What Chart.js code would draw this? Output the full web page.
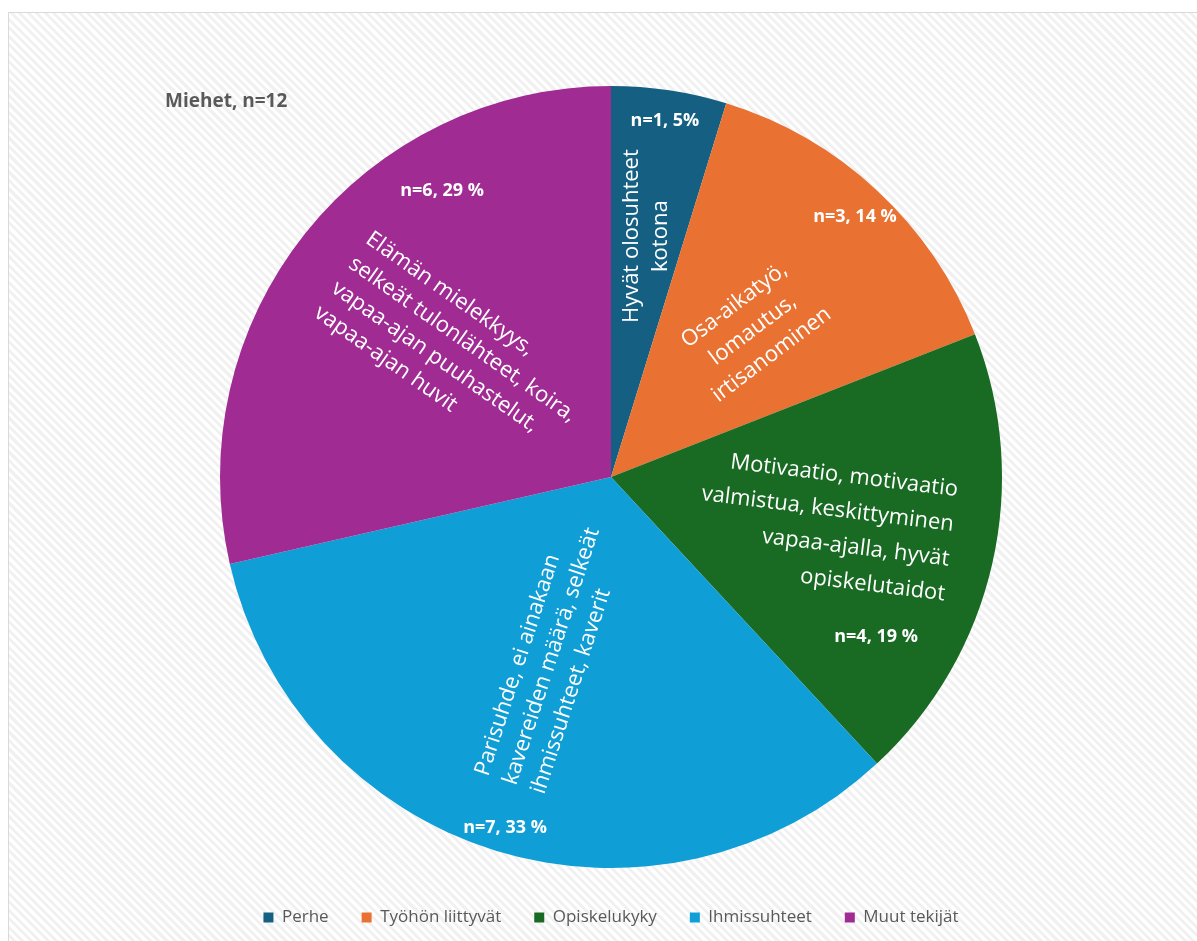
<!DOCTYPE html>
<html>
<head>
<meta charset="utf-8">
<script src="https://cdn.jsdelivr.net/npm/chart.js@4.4.1/dist/chart.umd.min.js"></script>
<style>
  html, body { margin: 0; padding: 0; background: #ffffff; }
  body { width: 1197px; height: 941px; position: relative; overflow: hidden; }
  #frame {
    position: absolute; left: 8px; top: 12px; right: -2px; bottom: -2px;
    border: 1px solid #d9d9d9;
    background: repeating-linear-gradient(45deg, #ffffff 0px, #ffffff 3px, #f1f1f1 3px, #f1f1f1 6px);
  }
  #wrap { position: absolute; left: 0; top: 0; width: 1197px; height: 941px; }
</style>
</head>
<body>
<div id="frame"></div>
<div id="wrap"><canvas id="c" width="1197" height="941"></canvas></div>
<script>
// ---- data ----
const categories = ['Perhe', 'Työhön liittyvät', 'Opiskelukyky', 'Ihmissuhteet', 'Muut tekijät'];
const counts = [1, 3, 4, 7, 6];
const countLabels = ['n=1, 5%', 'n=3, 14 %', 'n=4, 19 %', 'n=7, 33 %', 'n=6, 29 %'];
const descriptions = [
  ['Hyvät olosuhteet', 'kotona'],
  ['Osa-aikatyö,', 'lomautus,', 'irtisanominen'],
  ['Motivaatio, motivaatio', 'valmistua, keskittyminen', 'vapaa-ajalla, hyvät', 'opiskelutaidot'],
  ['Parisuhde, ei ainakaan', 'kavereiden määrä, selkeät', 'ihmissuhteet, kaverit'],
  ['Elämän mielekkyys,', 'selkeät tulonlähteet, koira,', 'vapaa-ajan puuhastelut,', 'vapaa-ajan huvit']
];
const chartTitle = 'Miehet, n=12';

// ---- styles / placement ----
const colors = ['#156082', '#E97132', '#196B24', '#0F9ED5', '#A02B93'];
// positions relative to pie centre, in units of outer radius
const countPos = [[0.138, -0.910], [0.624, -0.665], [0.678, 0.409], [-0.271, 0.898], [-0.432, -0.731]];
const descPlace = [
  { pos: [0.090, -0.616], rot: -90, align: 'center', anchor: 'middle', lh: 29 },
  { pos: [0.363, -0.376], rot: -37, align: 'center', anchor: 'middle', lh: 31 },
  { pos: [0.887, 0.033], rot: 7, align: 'right', anchor: 'first', lh: 35 },
  { pos: [-0.330, 0.762], rot: -72, align: 'left', anchor: 'first', lh: 29.5 },
  { pos: [-0.621, -0.614], rot: 35, align: 'left', anchor: 'first', lh: 30 }
];

const labelPlugin = {
  id: 'sliceLabels',
  afterDatasetsDraw(chart) {
    const ctx = chart.ctx;
    const meta = chart.getDatasetMeta(0);
    ctx.save();
    meta.data.forEach((arc, i) => {
      const cx = arc.x, cy = arc.y, R = arc.outerRadius;
      // count label
      ctx.save();
      ctx.fillStyle = '#ffffff';
      ctx.font = 'bold 18px "Open Sans", sans-serif';
      ctx.textAlign = 'center';
      ctx.textBaseline = 'middle';
      ctx.fillText(countLabels[i], cx + countPos[i][0] * R, cy + countPos[i][1] * R);
      ctx.restore();
      // description
      const p = descPlace[i];
      const lines = descriptions[i];
      ctx.save();
      ctx.translate(cx + p.pos[0] * R, cy + p.pos[1] * R);
      ctx.rotate(p.rot * Math.PI / 180);
      ctx.fillStyle = '#ffffff';
      ctx.font = '22px "Open Sans", sans-serif';
      ctx.textAlign = p.align;
      ctx.textBaseline = 'middle';
      const off = p.anchor === 'middle' ? (lines.length - 1) / 2 : 0;
      lines.forEach((t, k) => ctx.fillText(t, 0, (k - off) * p.lh));
      ctx.restore();
    });
    // title
    ctx.fillStyle = '#595959';
    ctx.font = 'bold 19px "Open Sans", sans-serif';
    ctx.textAlign = 'left';
    ctx.textBaseline = 'middle';
    ctx.fillText(chartTitle, 165, 102);
    ctx.restore();
  }
};

new Chart(document.getElementById('c'), {
  type: 'pie',
  data: {
    labels: categories,
    datasets: [{
      data: counts,
      backgroundColor: colors,
      borderWidth: 0,
      radius: 391
    }]
  },
  options: {
    responsive: false,
    animation: false,
    layout: { padding: { left: 25, right: 0, top: 78, bottom: 5 } },
    plugins: {
      legend: {
        position: 'bottom',
        labels: {
          boxWidth: 10,
          boxHeight: 10,
          padding: 33,
          color: '#595959',
          font: { family: '"Open Sans", sans-serif', size: 17 }
        }
      },
      tooltip: { enabled: false },
      title: { display: false }
    }
  },
  plugins: [labelPlugin]
});
</script>
</body>
</html>
